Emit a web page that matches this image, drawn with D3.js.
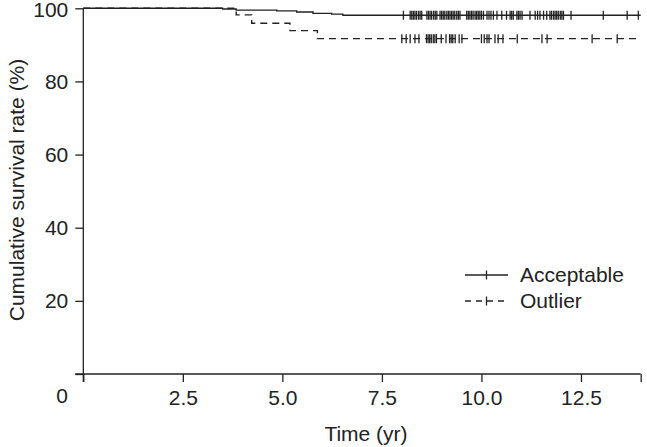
<!DOCTYPE html>
<html>
<head>
<script src="https://cdn.jsdelivr.net/npm/d3@7/dist/d3.min.js"></script>
<style>
  body { margin: 0; background: #fff; }
  text { font-family: "Liberation Sans", Arial, sans-serif; fill: #222; }
</style>
</head>
<body>
<div id="chart"></div>
<script>
// step curves: time (yr) and survival (%) after each step
var accTimes = [0, 3.5, 3.84, 4.86, 5.36, 5.77, 6.24, 6.52];
var accSurv  = [100, 99.8, 99.5, 99.3, 99.0, 98.6, 98.4, 98.1];
var outTimes = [0, 3.84, 4.23, 5.19, 5.88];
var outSurv  = [100, 98.2, 95.9, 93.9, 91.7];
var endTime = 14;

// censored cases (time, yr)
var accCensor = [8.04, 8.21, 8.25, 8.29, 8.33, 8.37, 8.42, 8.46, 8.5, 8.63, 8.67, 8.71, 8.75,
  8.8, 8.84, 8.88, 8.96, 9.0, 9.04, 9.08, 9.13, 9.17, 9.21, 9.25, 9.29, 9.33, 9.38, 9.42, 9.46,
  9.63, 9.67, 9.71, 9.75, 9.79, 9.84, 9.88, 9.92, 9.96, 10.0, 10.05, 10.14, 10.19, 10.24, 10.3,
  10.39, 10.51, 10.63, 10.72, 10.76, 10.8, 10.89, 10.93, 10.97, 11.02, 11.22, 11.35, 11.41,
  11.47, 11.56, 11.64, 11.72, 11.76, 11.81, 11.85, 11.89, 11.93, 11.98, 12.02, 12.06, 12.25,
  13.06, 13.66, 13.94];
var outCensor = [8.0, 8.11, 8.21, 8.33, 8.43, 8.62, 8.66, 8.7, 8.74, 8.79, 8.83, 8.87, 8.99,
  9.11, 9.2, 9.24, 9.28, 9.34, 9.44, 9.51, 10.0, 10.07, 10.14, 10.19, 10.34, 10.42, 10.54,
  10.9, 11.52, 11.65, 12.78, 13.41];

var xTicks = [0, 2.5, 5, 7.5, 10, 12.5, 14];
var yTicks = [0, 20, 40, 60, 80, 100];
var series = ["Acceptable", "Outlier"];

var width = 647, height = 447;
var svg = d3.select("#chart").append("svg")
  .attr("width", width)
  .attr("height", height);

var x = d3.scaleLinear().domain([0, endTime]).range([83.3, 640.7]);
var y = d3.scaleLinear().domain([0, 100]).range([374, 8.3]);

var ink = "#222";

// axes
var xAxis = svg.append("g")
  .attr("transform", "translate(0," + y(0) + ")")
  .call(d3.axisBottom(x).tickValues(xTicks).tickSize(8).tickPadding(8)
    .tickFormat(function(d) { return (d === 0 || d === endTime) ? "" : d3.format(".1f")(d); }));
xAxis.select(".domain").remove();
xAxis.selectAll("line").attr("stroke", ink).attr("stroke-width", 1.3);
xAxis.selectAll("text").style("font-size", "21px").attr("fill", ink);

var yAxis = svg.append("g")
  .attr("transform", "translate(" + x(0) + ",0)")
  .call(d3.axisLeft(y).tickValues(yTicks).tickSize(8).tickPadding(7)
    .tickFormat(function(d) { return d === 0 ? "" : d; }));
yAxis.select(".domain").remove();
yAxis.selectAll("line").attr("stroke", ink).attr("stroke-width", 1.3);
yAxis.selectAll("text").style("font-size", "21px").attr("fill", ink);
// keep the top label inside the frame
yAxis.selectAll("text").filter(function(d) { return d === 100; }).attr("dy", "0.38em");

// axis lines
svg.append("line")
  .attr("x1", x(0) - 8).attr("x2", x(endTime))
  .attr("y1", y(0)).attr("y2", y(0))
  .attr("stroke", ink).attr("stroke-width", 1.3);
svg.append("line")
  .attr("x1", x(0)).attr("x2", x(0))
  .attr("y1", y(100)).attr("y2", y(0) + 8)
  .attr("stroke", ink).attr("stroke-width", 1.3);

// shared origin label
svg.append("text")
  .attr("x", 62).attr("y", 403)
  .attr("text-anchor", "middle")
  .style("font-size", "21px")
  .text("0");

// titles
svg.append("text")
  .attr("x", 366).attr("y", 441)
  .attr("text-anchor", "middle")
  .style("font-size", "21px")
  .text("Time (yr)");

svg.append("text")
  .attr("transform", "translate(24,190) rotate(-90)")
  .attr("text-anchor", "middle")
  .style("font-size", "21px")
  .text("Cumulative survival rate (%)");

// curves
function stepData(times, surv) {
  var pts = times.map(function(t, i) { return [t, surv[i]]; });
  pts.push([endTime, surv[surv.length - 1]]);
  return pts;
}
var line = d3.line()
  .x(function(d) { return x(d[0]); })
  .y(function(d) { return y(d[1]); })
  .curve(d3.curveStepAfter);

var curves = [
  { name: series[0], data: stepData(accTimes, accSurv), censor: accCensor, dash: null },
  { name: series[1], data: stepData(outTimes, outSurv), censor: outCensor, dash: "7,5" }
];

curves.slice().reverse().forEach(function(c) {
  svg.append("path")
    .attr("d", line(c.data))
    .attr("fill", "none")
    .attr("stroke", ink)
    .attr("stroke-width", 1.4)
    .attr("stroke-dasharray", c.dash);

  var last = c.data[c.data.length - 1][1];
  svg.selectAll(null)
    .data(c.censor)
    .enter().append("line")
    .attr("x1", function(d) { return x(d); })
    .attr("x2", function(d) { return x(d); })
    .attr("y1", y(last) - 4.5)
    .attr("y2", y(last) + 4.5)
    .attr("stroke", ink)
    .attr("stroke-width", 1.3);
});

// legend
var legend = svg.append("g").attr("transform", "translate(465,275)");
curves.forEach(function(c, i) {
  var g = legend.append("g").attr("transform", "translate(0," + (i * 26) + ")");
  g.append("line")
    .attr("x1", 0).attr("x2", 43)
    .attr("stroke", ink).attr("stroke-width", 1.4)
    .attr("stroke-dasharray", c.dash ? "6,5" : null);
  g.append("line")
    .attr("x1", 21.5).attr("x2", 21.5).attr("y1", -4.5).attr("y2", 4.5)
    .attr("stroke", ink).attr("stroke-width", 1.3);
  g.append("text")
    .attr("x", 55).attr("dy", "0.35em")
    .style("font-size", "21px")
    .text(c.name);
});
</script>
</body>
</html>
